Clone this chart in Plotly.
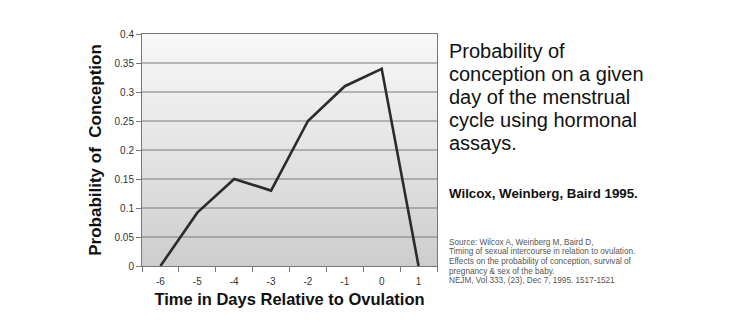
import plotly.graph_objects as go

days = [-6, -5, -4, -3, -2, -1, 0, 1]
prob = [0.0, 0.092, 0.15, 0.13, 0.25, 0.31, 0.34, 0.0]
y_ticks = [0, 0.05, 0.1, 0.15, 0.2, 0.25, 0.3, 0.35, 0.4]
y_labels = ["0", "0.05", "0.1", "0.15", "0.2", "0.25", "0.3", "0.35", "0.4"]

title_lines = ["Probability of", "conception on a given", "day of the menstrual",
               "cycle using hormonal", "assays."]
cite = "Wilcox, Weinberg, Baird 1995."
source_lines = ["Source: Wilcox A, Weinberg M, Baird D,",
                "Timing of sexual intercourse in relation to ovulation.",
                "Effects on the probability of conception, survival of",
                "pregnancy & sex of the baby.",
                "NEJM, Vol 333, (23), Dec 7, 1995. 1517-1521"]

W, H = 732, 336
L, R, T, B = 142, 437, 34, 266

xmin, xmax = days[0] - 0.5, days[-1] + 0.5
ymin, ymax = y_ticks[0], y_ticks[-1]

fig = go.Figure()
# gradient background
fig.add_trace(go.Scatter(
    x=[xmin, xmax, xmax, xmin, xmin], y=[ymin, ymin, ymax, ymax, ymin],
    mode="lines", line=dict(width=0), fill="toself",
    fillgradient=dict(type="vertical",
                      colorscale=[[0, "#cdcdcd"], [0.5, "#e4e4e4"], [1, "#f8f8f8"]]),
    hoverinfo="skip", showlegend=False))
# gridlines above the gradient
for yv in y_ticks[1:-1]:
    fig.add_trace(go.Scatter(x=[xmin, xmax], y=[yv, yv], mode="lines",
                             line=dict(color="#7a7a7a", width=1),
                             hoverinfo="skip", showlegend=False))
fig.add_trace(go.Scatter(x=days, y=prob, mode="lines",
                         line=dict(color="#2b2b2b", width=2.6), showlegend=False))

fig.update_layout(
    width=W, height=H,
    margin=dict(l=L, r=W - R, t=T, b=H - B),
    paper_bgcolor="white", plot_bgcolor="white",
    font=dict(family="Liberation Sans, Arial, sans-serif", color="#222"),
    xaxis=dict(range=[xmin, xmax], tickvals=days, ticktext=[str(d) for d in days],
               ticks="", showgrid=False, zeroline=False, ticklabelstandoff=6,
               showline=True, linecolor="#777", linewidth=1, mirror=True,
               tickfont=dict(size=10, color="#333"),
               minor=dict(tick0=xmin, dtick=1, ticks="outside", ticklen=5,
                          tickcolor="#777", showgrid=False),
               title=dict(text="<b>Time in Days Relative to Ovulation</b>",
                          font=dict(size=16.5, color="#111"), standoff=7)),
    yaxis=dict(range=[ymin, ymax], tickvals=y_ticks, ticktext=y_labels,
               ticks="outside", ticklen=5, tickcolor="#777",
               showgrid=False, zeroline=False,
               showline=True, linecolor="#777", linewidth=1, mirror=True,
               tickfont=dict(size=10, color="#333"),
               title=dict(text="<b>Probability of  Conception</b>",
                          font=dict(size=17, color="#111"), standoff=8)),
)

def px_x(px):
    return (px - L) / (R - L)

def px_y(py):
    return (B - py) / (B - T)

for i, line in enumerate(title_lines):
    fig.add_annotation(text=line, xref="paper", yref="paper",
                       x=px_x(447), y=px_y(51 + 23 * i), xanchor="left", yanchor="middle",
                       showarrow=False, font=dict(size=20, color="#111"))
fig.add_annotation(text="<b>" + cite + "</b>", xref="paper", yref="paper",
                   x=px_x(447), y=px_y(193), xanchor="left", yanchor="middle",
                   showarrow=False, font=dict(size=13.3, color="#111"))
for i, line in enumerate(source_lines):
    fig.add_annotation(text=line, xref="paper", yref="paper",
                       x=px_x(447), y=px_y(242 + 9.7 * i), xanchor="left", yanchor="middle",
                       showarrow=False, font=dict(size=8.2, color="#555"))

fig.write_html("out.html")
